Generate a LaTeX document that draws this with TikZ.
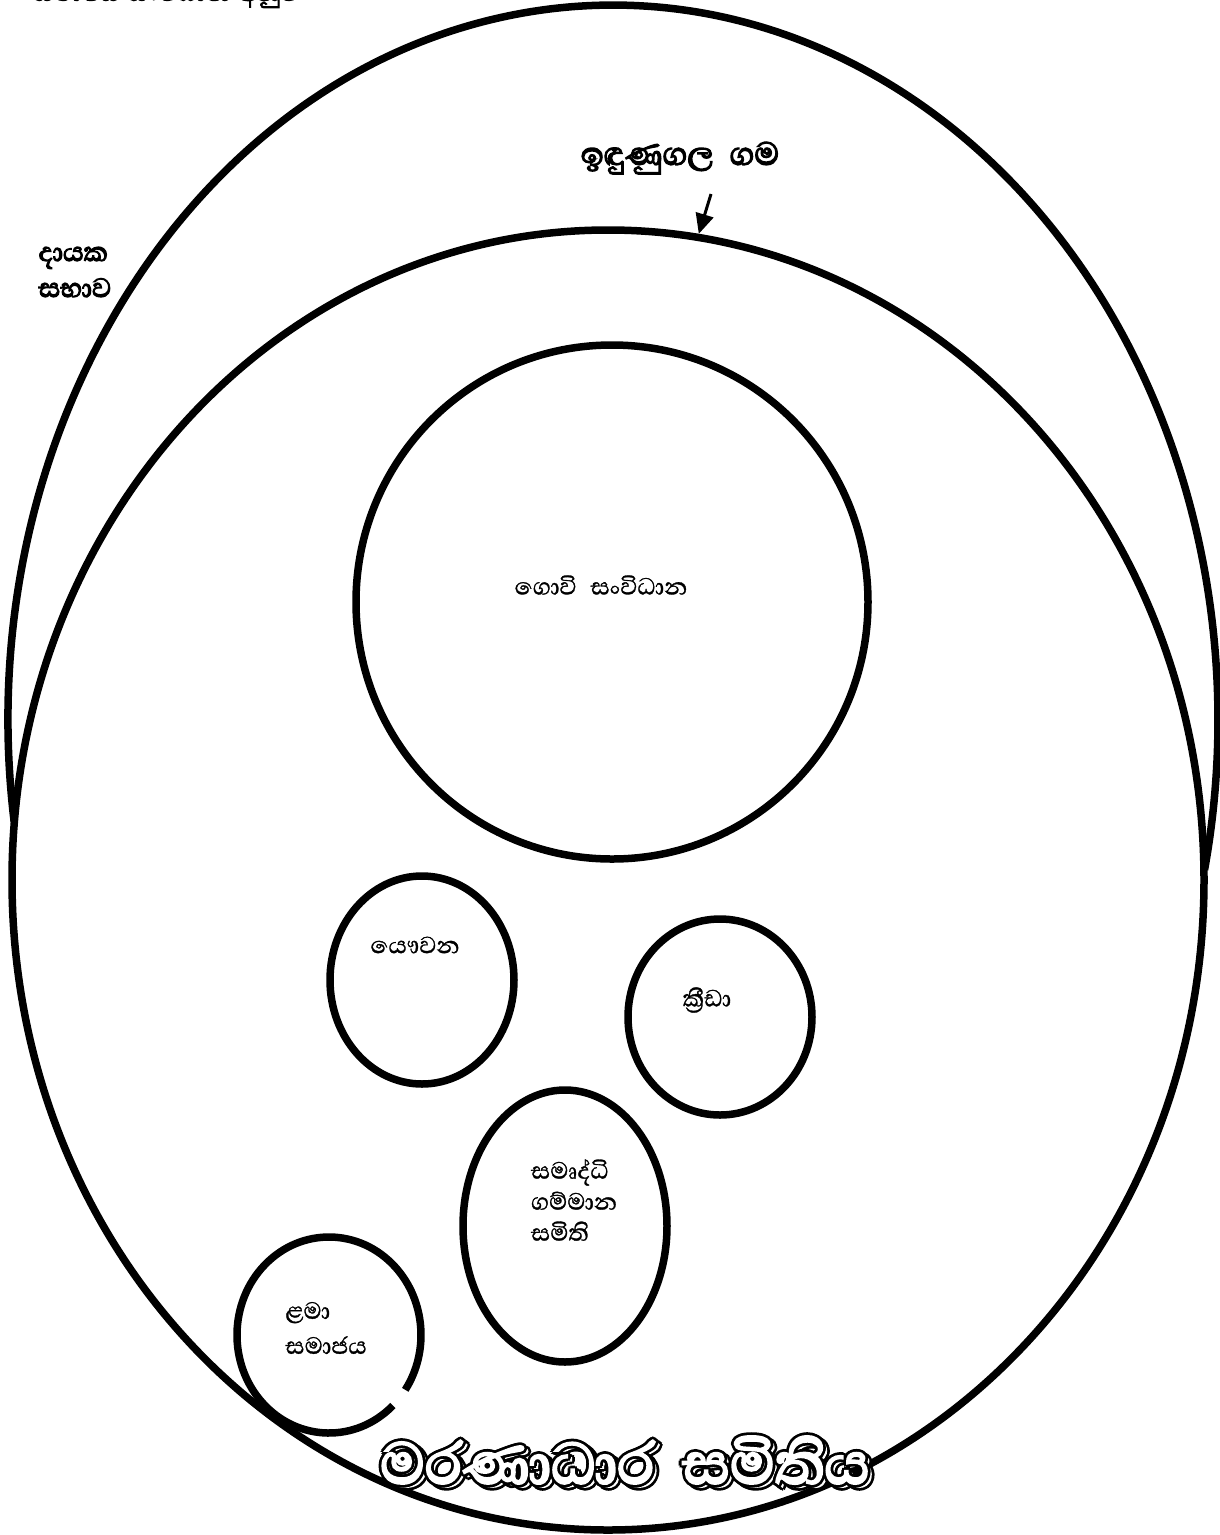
\documentclass[tikz,border=0pt]{standalone}
\usepackage{fontspec}
\newfontfamily\sinhalafont[Script=Sinhala,FakeBold=1]{Abhaya Libre}
\newfontfamily\sinhalabold[Script=Sinhala,FakeBold=3.5]{Abhaya Libre}
\usetikzlibrary{shapes.geometric,arrows.meta,calc}
\tikzset{
  ring/.style={draw, ellipse, line width=7.5pt, inner sep=0pt},
  thick line/.style={line width=7.5pt},
  lbl/.style={font=\sinhalafont\fontsize{30}{33}\selectfont, align=left, inner sep=0pt},
  blbl/.style={font=\sinhalabold\fontsize{34}{36}\selectfont, align=left, inner sep=0pt},
  ttl/.style={font=\sinhalabold\fontsize{74}{80}\selectfont, inner sep=0pt},
}
\newcommand{\mtitletext}{මරණාධාර\hspace{28pt}සමිතිය}
\begin{document}
\begin{tikzpicture}[x=1pt,y=-1pt]
\useasboundingbox (0,0) rectangle (1220,1535);
\fill[white] (0,0) rectangle (1220,1535);
% outer village arch (upper part only)
\coordinate (oa) at (14.2,822);
\draw[thick line] (oa) arc[start angle=171.8, end angle=372.1, x radius=605, y radius=715];
% inner ellipse
\node[ring, minimum width=1192pt, minimum height=1300pt] (village) at (608,880) {};
% big circle
\node[ring, minimum width=512pt, minimum height=514pt] (govi) at (612,602) {};
\node[lbl] (govit) at (601,585) {ගොවි\hspace{14pt}සංවිධාන};
% youth
\node[ring, minimum width=184pt, minimum height=208pt] (yau) at (422,980) {};
\node[lbl] (yaut) at (415,945) {යෞවන};
% sport
\node[ring, minimum width=184pt, minimum height=196pt] (krida) at (720,1017) {};
\node[lbl] (kridat) at (707,1000) {ක්‍රීඩා};
% samurdhi
\node[ring, minimum width=204pt, minimum height=272pt] (samu) at (565,1226) {};
\node[lbl, font=\sinhalafont\fontsize{30}{31}\selectfont] (samut) at (574,1200) {සමෘද්ධි\\ගම්මාන\\සමිති};
% children society (with gap)
\coordinate (lc) at (392.9,1405.5);
\draw[thick line] (lc) arc[start angle=46, end angle=394, x radius=92, y radius=98];
\node[lbl, font=\sinhalafont\fontsize{30}{35}\selectfont] (lamat) at (326,1328) {ළමා\\සමාජය};
% labels
\node[blbl, font=\sinhalabold\fontsize{32}{36}\selectfont] (topt) at (166,-6) {සමාජීය\hspace{8pt}සංවිධාන\hspace{8pt}අනුව};
\node[blbl] (dayaka) at (75,272) {දායක\\සභාව};
\node[blbl, font=\sinhalabold\fontsize{41}{44}\selectfont] (gama) at (680,158) {ඉඳුණුගල\hspace{16pt}ගම};
\coordinate (arrtail) at (711,194);
\draw[line width=3pt, -{Triangle[length=20pt,width=18pt]}] (arrtail) -- (village.82);
% outlined title
\foreach \a [count=\i] in {0,45,...,315}{
  \node[ttl, text=black] (sh\i) at ($(629,1463)+(\a:2.8)$) {\mtitletext};
}
\node[ttl, text=white] (shw) at (629,1463) {\mtitletext};
\foreach \a [count=\i] in {0,45,...,315}{
  \node[ttl, text=black] (fr\i) at ($(625,1460)+(\a:2.8)$) {\mtitletext};
}
\node[ttl, text=white] (frw) at (625,1460) {\mtitletext};
\end{tikzpicture}
\end{document}
